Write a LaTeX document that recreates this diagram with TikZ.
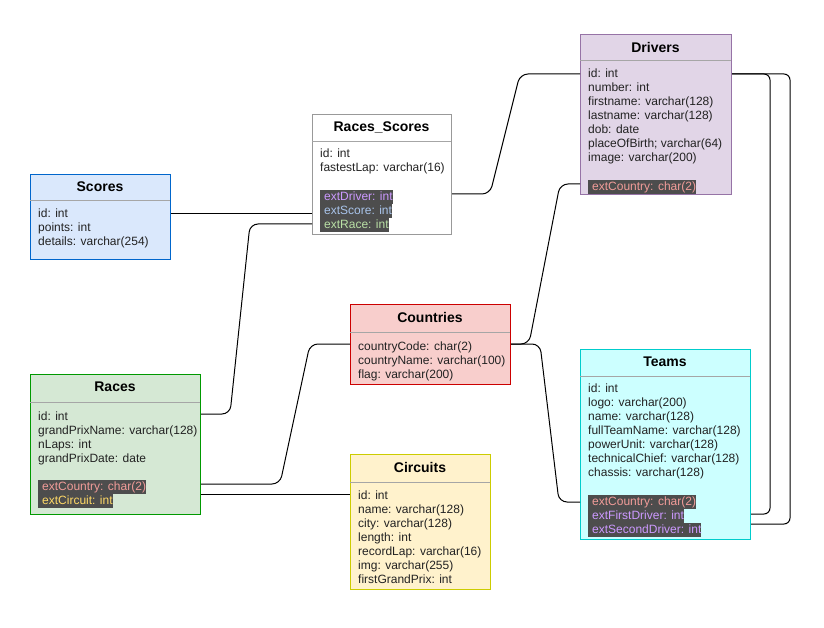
\documentclass[tikz,border=0pt]{standalone}
\usepackage{fontspec}
\setmainfont{Liberation Sans}
\usetikzlibrary{calc}

% table colours
\definecolor{drvF}{HTML}{E1D5E7}\definecolor{drvB}{HTML}{9673A6}
\definecolor{scoF}{HTML}{DAE8FC}\definecolor{scoB}{HTML}{0066CC}
\definecolor{couF}{HTML}{F8CECC}\definecolor{couB}{HTML}{CC0000}
\definecolor{teaF}{HTML}{CCFFFF}\definecolor{teaB}{HTML}{00CCCC}
\definecolor{racF}{HTML}{D5E8D4}\definecolor{racB}{HTML}{009900}
\definecolor{cirF}{HTML}{FFF2CC}\definecolor{cirB}{HTML}{CCCC00}
\definecolor{rsB}{HTML}{999999}
\definecolor{sepgray}{HTML}{A6A6A6}
\definecolor{txt}{HTML}{222222}
\definecolor{hl}{HTML}{4D4D4D}
% foreign-key text colours
\definecolor{fkCountry}{HTML}{F19C99}
\definecolor{fkCircuit}{HTML}{FFD966}
\definecolor{fkDriver}{HTML}{CC99FF}
\definecolor{fkScore}{HTML}{A9C4EB}
\definecolor{fkRace}{HTML}{B9E0A5}

\tikzset{
  tbl/.style={draw, line width=1pt, inner sep=0pt, anchor=north west},
  ttl/.style={font=\fontsize{14}{16}\selectfont\bfseries, text=black, inner sep=0pt},
  row/.style={anchor=west, inner sep=0pt, text height=10.5pt, text depth=3.5pt,
              font=\fontsize{12}{14}\selectfont, text=txt},
  fk/.style={row, fill=hl, text=#1},
  sepline/.style={draw=sepgray, line width=1pt},
  link/.style={draw=black, line width=1pt, rounded corners=8pt},
  loop/.style={draw=black, line width=1pt, rounded corners=6pt},
}
\newcommand{\fkt}[1]{\hspace{4pt}#1\hspace{2pt}}

\begin{document}
\begin{tikzpicture}[x=1pt, y=-1pt]
\useasboundingbox (0,0) rectangle (824,628);
\fill[white] (0,0) rectangle (824,628);

% ---------- Drivers ----------
\node[tbl, draw=drvB, fill=drvF, minimum width=151pt, minimum height=160pt] (drivers) at (580,34) {};
\node[ttl] (drivers-t) at (655.5,47) {Drivers};
\draw[sepline] (580,61) -- (731,61);
\node[row] (dr-id)    at (588,74)  {id: int};
\node[row] (dr-num)   at (588,88)  {number: int};
\node[row] (dr-first) at (588,102) {firstname: varchar(128)};
\node[row] (dr-last)  at (588,116) {lastname: varchar(128)};
\node[row] (dr-dob)   at (588,130) {dob: date};
\node[row] (dr-pob)   at (588,144) {placeOfBirth; varchar(64)};
\node[row] (dr-img)   at (588,158) {image: varchar(200)};
\node[fk=fkCountry] (dr-cty) at (588,187) {\fkt{extCountry: char(2)}};

% ---------- Races_Scores ----------
\node[tbl, draw=rsB, fill=white, minimum width=139pt, minimum height=120pt] (rs) at (312,114) {};
\node[ttl] (rs-t) at (381.5,127) {Races\_Scores};
\draw[sepline] (312,142) -- (451,142);
\node[row] (rs-id)   at (320,154) {id: int};
\node[row] (rs-lap)  at (320,168) {fastestLap: varchar(16)};
\node[fk=fkDriver] (rs-drv)   at (320,197) {\fkt{extDriver: int}};
\node[fk=fkScore]  (rs-score) at (320,211) {\fkt{extScore: int}};
\node[fk=fkRace]   (rs-race)  at (320,225) {\fkt{extRace: int}};

% ---------- Scores ----------
\node[tbl, draw=scoB, fill=scoF, minimum width=140pt, minimum height=85pt] (scores) at (30,174) {};
\node[ttl] (scores-t) at (100,187) {Scores};
\draw[sepline] (30,201) -- (170,201);
\node[row] (sc-id)  at (38,214) {id: int};
\node[row] (sc-pts) at (38,228) {points: int};
\node[row] (sc-det) at (38,242) {details: varchar(254)};

% ---------- Countries ----------
\node[tbl, draw=couB, fill=couF, minimum width=160pt, minimum height=80pt] (countries) at (350,304) {};
\node[ttl] (countries-t) at (430,317) {Countries};
\draw[sepline] (350,332) -- (510,332);
\node[row] (co-code) at (358,347) {countryCode: char(2)};
\node[row] (co-name) at (358,361) {countryName: varchar(100)};
\node[row] (co-flag) at (358,375) {flag: varchar(200)};

% ---------- Teams ----------
\node[tbl, draw=teaB, fill=teaF, minimum width=170pt, minimum height=190pt] (teams) at (580,349) {};
\node[ttl] (teams-t) at (665,362) {Teams};
\draw[sepline] (580,376) -- (750,376);
\node[row] (tm-id)    at (588,389) {id: int};
\node[row] (tm-logo)  at (588,403) {logo: varchar(200)};
\node[row] (tm-name)  at (588,417) {name: varchar(128)};
\node[row] (tm-full)  at (588,431) {fullTeamName: varchar(128)};
\node[row] (tm-pu)    at (588,445) {powerUnit: varchar(128)};
\node[row] (tm-chief) at (588,459) {technicalChief: varchar(128)};
\node[row] (tm-chas)  at (588,473) {chassis: varchar(128)};
\node[fk=fkCountry] (tm-cty)    at (588,502) {\fkt{extCountry: char(2)}};
\node[fk=fkDriver]  (tm-first)  at (588,516) {\fkt{extFirstDriver: int}};
\node[fk=fkDriver]  (tm-second) at (588,530) {\fkt{extSecondDriver: int}};

% ---------- Races ----------
\node[tbl, draw=racB, fill=racF, minimum width=170pt, minimum height=140pt] (races) at (30,374) {};
\node[ttl] (races-t) at (115,387) {Races};
\draw[sepline] (30,402) -- (200,402);
\node[row] (ra-id)   at (38,417) {id: int};
\node[row] (ra-gpn)  at (38,431) {grandPrixName: varchar(128)};
\node[row] (ra-laps) at (38,445) {nLaps: int};
\node[row] (ra-date) at (38,459) {grandPrixDate: date};
\node[fk=fkCountry] (ra-cty) at (38,487) {\fkt{extCountry: char(2)}};
\node[fk=fkCircuit] (ra-cir) at (38,501) {\fkt{extCircuit: int}};

% ---------- Circuits ----------
\node[tbl, draw=cirB, fill=cirF, minimum width=140pt, minimum height=135pt] (circuits) at (350,454) {};
\node[ttl] (circuits-t) at (420,467) {Circuits};
\draw[sepline] (350,482) -- (490,482);
\node[row] (ci-id)    at (358,496) {id: int};
\node[row] (ci-name)  at (358,510) {name: varchar(128)};
\node[row] (ci-city)  at (358,524) {city: varchar(128)};
\node[row] (ci-len)   at (358,538) {length: int};
\node[row] (ci-rec)   at (358,552) {recordLap: varchar(16)};
\node[row] (ci-img)   at (358,566) {img: varchar(255)};
\node[row] (ci-first) at (358,580) {firstGrandPrix: int};

% ---------- relations ----------
\draw[link] (scores.east |- 0,214) -- (rs.west |- 0,214);
\draw[link] (races.east |- 0,414) -- (230,414) -- (250,224) -- (rs.west |- 0,224);
\draw[link] (races.east |- 0,484) -- (280,484) -- (310,344) -- (countries.west |- 0,344);
\draw[link] (races.east |- 0,494) -- (circuits.west |- 0,494);
\draw[link] (rs.east |- 0,194) -- (490,194) -- (520,74) -- (drivers.west |- 0,74);
\draw[link] (countries.east |- 0,344) -- (529,344) -- (560,184) -- (drivers.west |- 0,184);
\draw[link] (countries.east |- 0,344) -- (540,344) -- (559,502) -- (teams.west |- 0,502);
\draw[loop] (drivers.east |- 0,74) -- (770,74) -- (770,514) -- (teams.east |- 0,514);
\draw[loop] (drivers.east |- 0,74) -- (790,74) -- (790,524) -- (teams.east |- 0,524);
\end{tikzpicture}
\end{document}
